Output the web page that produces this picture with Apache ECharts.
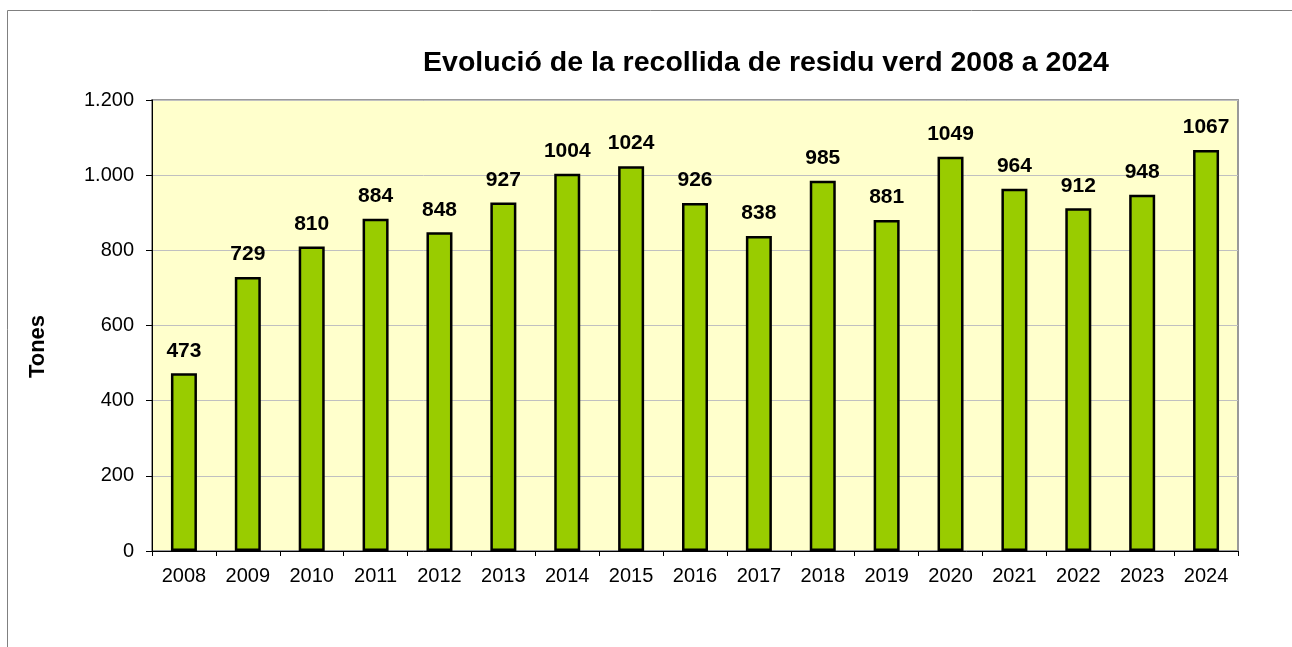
<!DOCTYPE html>
<html>
<head>
<meta charset="utf-8">
<script src="https://cdn.jsdelivr.net/npm/echarts@6/dist/echarts.min.js"></script>
<style>
  html, body { margin: 0; padding: 0; background: #fff; }
  #chart { width: 1292px; height: 647px; }
</style>
</head>
<body>
<div id="chart"></div>
<script>
var years = ['2008', '2009', '2010', '2011', '2012', '2013', '2014', '2015', '2016',
  '2017', '2018', '2019', '2020', '2021', '2022', '2023', '2024'];
var tones = [473, 729, 810, 884, 848, 927, 1004, 1024, 926, 838, 985, 881, 1049, 964, 912, 948, 1067];
var yTicks = [0, 200, 400, 600, 800, 1000, 1200];

var myChart = echarts.init(document.getElementById('chart'));

function thousands(v) {
  return String(v).replace(/\B(?=(\d{3})+(?!\d))/g, '.');
}

var option = {
  backgroundColor: '#ffffff',
  textStyle: { fontFamily: 'Liberation Sans, Arial, sans-serif' },
  animation: false,
  title: {
    text: 'Evolució de la recollida de residu verd 2008 a 2024',
    left: 761,
    textAlign: 'center',
    top: 44,
    textStyle: { fontSize: 28.5, fontWeight: 'bold', color: '#000' }
  },
  graphic: [{
    type: 'rect',
    shape: { x: 7.5, y: 10.5, width: 1400, height: 800 },
    style: { fill: 'none', stroke: '#808080', lineWidth: 1 },
    silent: true
  }],
  grid: {
    left: 152,
    top: 100,
    right: 54,
    bottom: 96,
    show: true,
    backgroundColor: '#FFFFCC',
    borderColor: '#999999',
    borderWidth: 2
  },
  xAxis: {
    type: 'category',
    data: years,
    axisLine: { lineStyle: { color: '#000', width: 1 } },
    axisTick: { show: true, length: 5, alignWithLabel: false, lineStyle: { color: '#000' } },
    axisLabel: { color: '#000', fontSize: 20, margin: 15 }
  },
  yAxis: {
    type: 'value',
    min: yTicks[0],
    max: yTicks[yTicks.length - 1],
    interval: 200,
    name: 'Tones',
    nameLocation: 'middle',
    nameGap: 103,
    nameTextStyle: { fontSize: 22, fontWeight: 'bold', color: '#000', padding: [0, 42, 0, 0] },
    axisLine: { show: true, lineStyle: { color: '#000', width: 1 } },
    axisTick: { show: true, length: 6, lineStyle: { color: '#000' } },
    axisLabel: { color: '#000', fontSize: 20, margin: 18, formatter: thousands },
    splitLine: { show: true, lineStyle: { color: '#c0c0c0', width: 1 } }
  },
  series: [{
    type: 'bar',
    data: tones,
    barWidth: 26,
    itemStyle: { color: '#99CC00', borderColor: '#000', borderWidth: 2.5 },
    label: {
      show: true,
      position: 'top',
      distance: 12,
      color: '#000',
      fontSize: 21,
      fontWeight: 'bold'
    }
  }]
};

myChart.setOption(option);
</script>
</body>
</html>
